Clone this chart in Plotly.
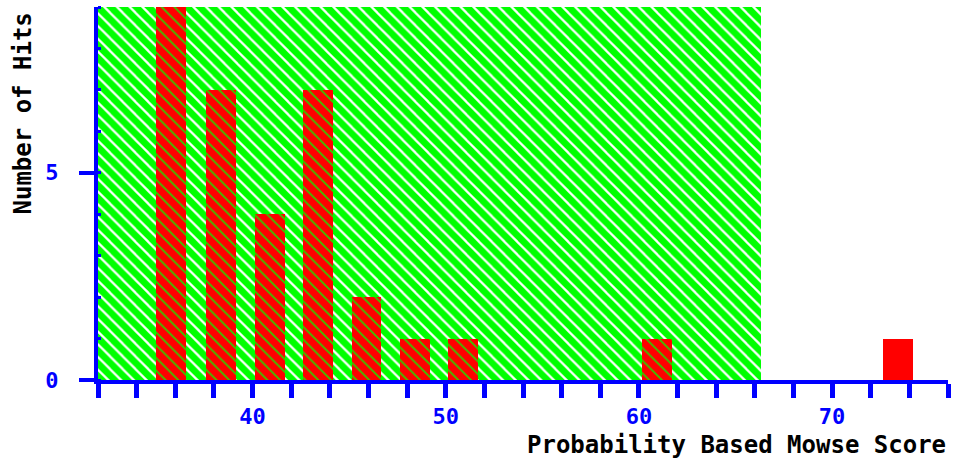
import plotly.graph_objects as go

# Data
score_bins = [35.8, 38.35, 40.9, 43.4, 45.9, 48.4, 50.9, 60.95, 73.4]
hit_counts = [9, 7, 4, 7, 2, 1, 1, 1, 1]
bar_width = 1.55
threshold_range = [32, 66.3]   # shaded "non-significant" region
shade_height = 9

x_range = [32, 76]
y_range = [0, 9]
x_title = "Probability Based Mowse Score"
y_title = "Number of Hits"

BLUE = "#0000ff"
GREEN = "#00ff00"
RED = "#ff0000"
FONT = "DejaVu Sans Mono"

inside = [x < threshold_range[1] for x in score_bins]
in_x = [x for x, f in zip(score_bins, inside) if f]
in_y = [y for y, f in zip(hit_counts, inside) if f]
out_x = [x for x, f in zip(score_bins, inside) if not f]
out_y = [y for y, f in zip(hit_counts, inside) if not f]

fig = go.Figure()

# green hatched region
fig.add_trace(go.Bar(
    x=[(threshold_range[0] + threshold_range[1]) / 2],
    y=[shade_height],
    width=[threshold_range[1] - threshold_range[0]],
    marker=dict(color="white", line=dict(width=0),
                pattern=dict(shape="\\", fgcolor=GREEN, bgcolor="white",
                             size=9, solidity=0.75, fillmode="replace")),
    hoverinfo="skip", showlegend=False,
))

# red bars inside the region (with thin green hatching)
fig.add_trace(go.Bar(
    x=in_x, y=in_y, width=[bar_width] * len(in_x),
    marker=dict(color=RED, line=dict(width=0),
                pattern=dict(shape="\\", fgcolor="#33cc00", bgcolor=RED,
                             size=9, solidity=0.2, fillmode="replace")),
    showlegend=False,
))

# red bars outside region (solid)
fig.add_trace(go.Bar(
    x=out_x, y=out_y, width=[bar_width] * len(out_x),
    marker=dict(color=RED, line=dict(width=0)),
    showlegend=False,
))

fig.update_layout(
    width=953, height=461,
    margin=dict(l=98, r=5, t=7, b=81),
    paper_bgcolor="white", plot_bgcolor="white",
    barmode="overlay", bargap=0,
    font=dict(family=FONT, color=BLUE),
    xaxis=dict(
        range=x_range, showgrid=False, zeroline=False,
        showline=True, linecolor=BLUE, linewidth=4,
        tickmode="linear", tick0=0, dtick=10,
        ticks="outside", ticklen=14, tickwidth=5, tickcolor=BLUE,
        minor=dict(dtick=2, tick0=0, ticks="outside", ticklen=14,
                   tickwidth=5, tickcolor=BLUE, showgrid=False),
        tickfont=dict(family=FONT, size=22, color=BLUE, weight="bold"),
    ),
    yaxis=dict(
        range=y_range, showgrid=False, zeroline=False,
        showline=True, linecolor=BLUE, linewidth=4,
        tickmode="array", tickvals=[0, 5], ticktext=["0", "5"],
        ticks="outside", ticklen=15, tickwidth=4, tickcolor=BLUE,
        minor=dict(dtick=1, tick0=0, ticks="inside", ticklen=3,
                   tickwidth=3, tickcolor=BLUE, showgrid=False),
        tickfont=dict(family=FONT, size=22, color=BLUE, weight="bold"),
        ticklabelstandoff=16,
    ),
    annotations=[
        dict(text=x_title, xref="paper", yref="paper", x=1.0, y=-0.175,
             xanchor="right", yanchor="middle", showarrow=False,
             font=dict(family=FONT, size=24, color="black", weight="bold")),
        dict(text=y_title, xref="paper", yref="paper", x=-0.088, y=0.715,
             xanchor="center", yanchor="middle", showarrow=False, textangle=-90,
             font=dict(family=FONT, size=24, color="black", weight="bold")),
    ],
)

fig.write_html("out.html")
